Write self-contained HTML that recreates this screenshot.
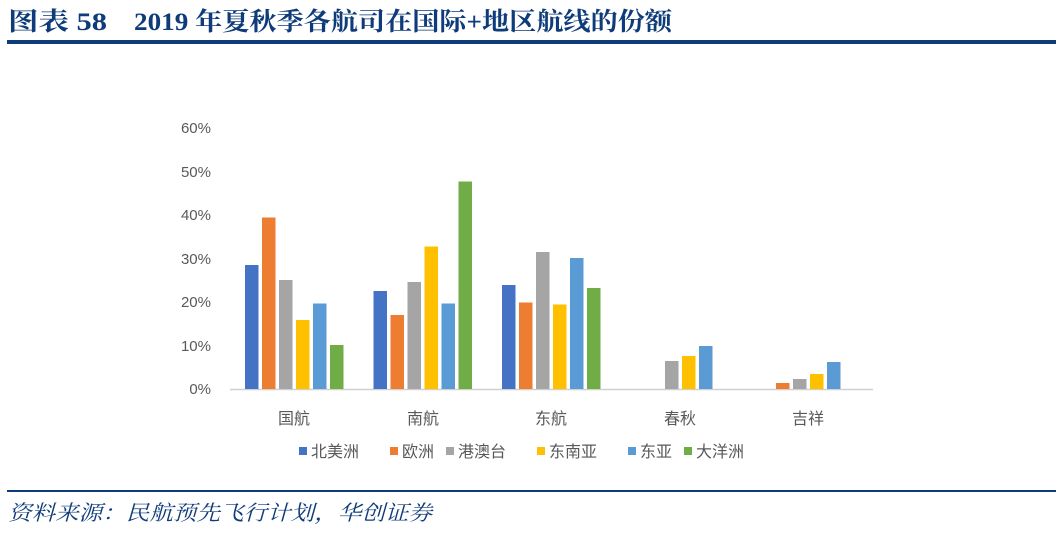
<!DOCTYPE html>
<html><head><meta charset="utf-8"><style>
body{margin:0;background:#fff;width:1059px;height:528px;overflow:hidden;font-family:"Liberation Sans","Noto Sans CJK SC",sans-serif}
</style></head><body>
<svg width="1059" height="528" xmlns="http://www.w3.org/2000/svg">
<g font-family="Liberation Serif,'Noto Serif CJK SC',serif" font-weight="bold" font-size="25" fill="#0e3b7a">
<text x="8" y="30" textLength="99" lengthAdjust="spacingAndGlyphs">图表 58</text>
<text x="134" y="30" textLength="538" lengthAdjust="spacingAndGlyphs">2019 年夏秋季各航司在国际+地区航线的份额</text>
</g>
<rect x="7" y="40" width="1049" height="4" fill="#0e3b7a"/>
<g font-size="15" fill="#595959" text-anchor="end" font-family="Liberation Sans,sans-serif">
<text x="211" y="394">0%</text><text x="211" y="351">10%</text><text x="211" y="307">20%</text><text x="211" y="264">30%</text><text x="211" y="220">40%</text><text x="211" y="177">50%</text><text x="211" y="133">60%</text>
</g>
<line x1="230" y1="389.5" x2="873" y2="389.5" stroke="#d0d0d0" stroke-width="1.5"/>
<g>
<rect x="245" y="265" width="13.5" height="124" fill="#4472c4"/>
<rect x="262" y="217.5" width="13.5" height="171.5" fill="#ed7d31"/>
<rect x="279" y="280" width="13.5" height="109" fill="#a5a5a5"/>
<rect x="296" y="320" width="13.5" height="69" fill="#ffc000"/>
<rect x="313" y="303.5" width="13.5" height="85.5" fill="#5b9bd5"/>
<rect x="330" y="345" width="13.5" height="44" fill="#70ad47"/>
<rect x="373.5" y="291" width="13.5" height="98" fill="#4472c4"/>
<rect x="390.5" y="315" width="13.5" height="74" fill="#ed7d31"/>
<rect x="407.5" y="282" width="13.5" height="107" fill="#a5a5a5"/>
<rect x="424.5" y="246.5" width="13.5" height="142.5" fill="#ffc000"/>
<rect x="441.5" y="303.5" width="13.5" height="85.5" fill="#5b9bd5"/>
<rect x="458.5" y="181.5" width="13.5" height="207.5" fill="#70ad47"/>
<rect x="502" y="285" width="13.5" height="104" fill="#4472c4"/>
<rect x="519" y="302.5" width="13.5" height="86.5" fill="#ed7d31"/>
<rect x="536" y="252" width="13.5" height="137" fill="#a5a5a5"/>
<rect x="553" y="304.5" width="13.5" height="84.5" fill="#ffc000"/>
<rect x="570" y="258" width="13.5" height="131" fill="#5b9bd5"/>
<rect x="587" y="288" width="13.5" height="101" fill="#70ad47"/>
<rect x="665" y="361" width="13.5" height="28" fill="#a5a5a5"/>
<rect x="682" y="356" width="13.5" height="33" fill="#ffc000"/>
<rect x="699" y="346" width="13.5" height="43" fill="#5b9bd5"/>
<rect x="776" y="383" width="13.5" height="6" fill="#ed7d31"/>
<rect x="793" y="379" width="13.5" height="10" fill="#a5a5a5"/>
<rect x="810" y="374" width="13.5" height="15" fill="#ffc000"/>
<rect x="827" y="362" width="13.5" height="27" fill="#5b9bd5"/>
</g>
<g font-size="16" fill="#595959" text-anchor="middle">
<text x="294" y="424">国航</text><text x="423" y="424">南航</text><text x="551" y="424">东航</text><text x="680" y="424">春秋</text><text x="808" y="424">吉祥</text>
</g>
<g font-size="16" fill="#595959">
<rect x="299" y="447" width="8" height="8" fill="#4472c4"/><text x="311" y="457">北美洲</text>
<rect x="390" y="447" width="8" height="8" fill="#ed7d31"/><text x="402" y="457">欧洲</text>
<rect x="446" y="447" width="8" height="8" fill="#a5a5a5"/><text x="458" y="457">港澳台</text>
<rect x="537" y="447" width="8" height="8" fill="#ffc000"/><text x="549" y="457">东南亚</text>
<rect x="628" y="447" width="8" height="8" fill="#5b9bd5"/><text x="640" y="457">东亚</text>
<rect x="684" y="447" width="8" height="8" fill="#70ad47"/><text x="696" y="457">大洋洲</text>
</g>
<rect x="7" y="490" width="1049" height="2" fill="#0e3b7a"/>
<text x="8" y="520" font-size="21" font-style="italic" fill="#0e3b7a" font-family="Liberation Serif,'Noto Serif CJK SC',serif" textLength="424" lengthAdjust="spacingAndGlyphs">资料来源：民航预先飞行计划，华创证券</text>
</svg>
</body></html>
